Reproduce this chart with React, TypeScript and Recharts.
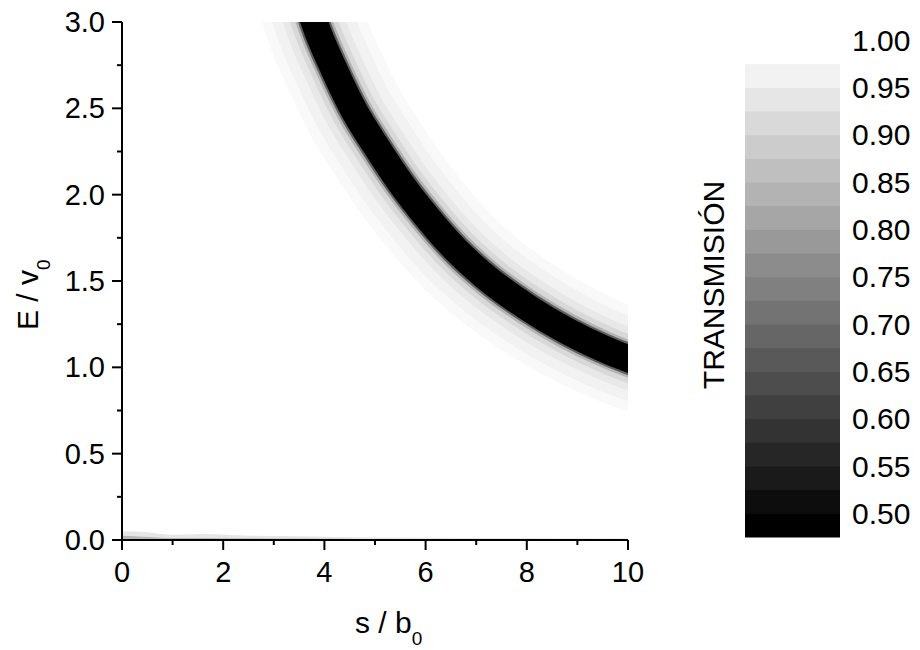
import { ComposedChart, Line, Area, XAxis, YAxis } from 'recharts';

const FONT = '"Liberation Sans", Arial, sans-serif';

// axis ticks
const X_TICKS = [0, 1, 2, 3, 4, 5, 6, 7, 8, 9, 10];
const X_LABELED = [0, 2, 4, 6, 8, 10];
const Y_TICKS = [0, 0.25, 0.5, 0.75, 1, 1.25, 1.5, 1.75, 2, 2.25, 2.5, 2.75, 3];
const Y_LABELED = [0, 0.5, 1, 1.5, 2, 2.5, 3];

// centre of the low-transmission ridge
const RIDGE_S = [3.5, 3.8, 4.2, 4.6, 5.0, 5.5, 6.0, 6.6, 7.2, 8.0, 8.8, 9.5, 10.0, 10.5];
const RIDGE_E = [3.3, 3.0, 2.72, 2.48, 2.29, 2.07, 1.88, 1.68, 1.52, 1.35, 1.21, 1.11, 1.05, 1.0];

// faint strip along E = 0
const FLOOR_S = [0, 0.5, 1, 1.6, 2.5, 3.5, 5, 7, 10];
const FLOOR_E = [0.05, 0.045, 0.03, 0.035, 0.025, 0.022, 0.015, 0.012, 0.008];
const FLOOR_DARK_E = [0.025, 0.018, 0.012, 0.012, 0.01, 0.008, 0.005, 0.003, 0];

// colour scale
const BAR_LEVELS = [0.475, 0.5, 0.525, 0.55, 0.575, 0.6, 0.625, 0.65, 0.675, 0.7, 0.725, 0.75,
  0.775, 0.8, 0.825, 0.85, 0.875, 0.9, 0.925, 0.95, 0.975, 1.0];
const BAR_TICKS = [0.5, 0.55, 0.6, 0.65, 0.7, 0.75, 0.8, 0.85, 0.9, 0.95, 1.0];

// halo layers: wide/light first, core last
const LAYERS = [
  { w: 100, c: '#f9f9f9' },
  { w: 80, c: '#f2f2f2' },
  { w: 60, c: '#e8e8e8' },
  { w: 46, c: '#d8d8d8' },
  { w: 36, c: '#b4b4b4' },
  { w: 31, c: '#606060' },
  { w: 27, c: '#000000' },
];

const ridge = RIDGE_S.map((s, i) => ({ s, E: RIDGE_E[i] }));
const floor = FLOOR_S.map((s, i) => ({ s, E: FLOOR_E[i], Ed: FLOOR_DARK_E[i] }));
const bands = BAR_LEVELS.slice(0, -1).map((lo, i) => [
  { x: 0, r: [lo, BAR_LEVELS[i + 1]] },
  { x: 1, r: [lo, BAR_LEVELS[i + 1]] },
]);
// grey of each band, bottom to top (top band is white)
const bandGray = (i: number) => {
  const g = Math.round((255 * i) / (bands.length - 1));
  return `rgb(${g},${g},${g})`;
};

function XTick({ x, y, payload }: any) {
  const major = X_LABELED.includes(payload.value);
  return (
    <g>
      <line x1={x} x2={x} y1={y} y2={y + (major ? 10 : 5)} stroke="#000" strokeWidth={2} />
      {major && (
        <text x={x} y={y + 42} textAnchor="middle" fontSize={29} fontFamily={FONT} fill="#000">
          {payload.value}
        </text>
      )}
    </g>
  );
}

function YTick({ x, y, payload }: any) {
  const major = Y_LABELED.includes(payload.value);
  return (
    <g>
      <line x1={x} x2={x - (major ? 10 : 5)} y1={y} y2={y} stroke="#000" strokeWidth={2} />
      {major && (
        <text x={x - 17} y={y + 10} textAnchor="end" fontSize={29} fontFamily={FONT} fill="#000">
          {payload.value.toFixed(1)}
        </text>
      )}
    </g>
  );
}

const xTitle = () => (
  <text x={355} y={633} fontSize={30} fontFamily={FONT} fill="#000">
    s / b<tspan fontSize={19} dy={12}>0</tspan>
  </text>
);

const yTitle = () => (
  <text x={38} y={330} transform="rotate(-90, 38, 330)" fontSize={30} fontFamily={FONT} fill="#000">
    E / v<tspan fontSize={19} dy={12}>0</tspan>
  </text>
);

const barTitle = () => (
  <text x={44} y={285} transform="rotate(-90, 44, 285)" textAnchor="middle" fontSize={30} fontFamily={FONT} fill="#000">
    TRANSMISIÓN
  </text>
);

export default function App() {
  return (
    <div style={{ position: 'absolute', left: 0, top: 0, width: 920, height: 650, background: '#fff' }}>
      <div style={{ position: 'absolute', left: 0, top: 0 }}>
        <ComposedChart width={660} height={650} data={ridge} margin={{ top: 22, right: 32, bottom: 0, left: 0 }}>
          <XAxis
            type="number"
            dataKey="s"
            domain={[0, 10]}
            ticks={X_TICKS}
            allowDataOverflow
            height={110}
            tickSize={0}
            tickMargin={0}
            tickLine={false}
            tick={(p: any) => <XTick {...p} />}
            axisLine={{ stroke: '#000', strokeWidth: 2 }}
            label={{ content: xTitle }}
          />
          <XAxis xAxisId="top" orientation="top" type="number" domain={[0, 10]} height={0}
            tick={false} tickLine={false} axisLine={{ stroke: '#000', strokeWidth: 2 }} />
          <YAxis
            type="number"
            domain={[0, 3]}
            ticks={Y_TICKS}
            allowDataOverflow
            width={122}
            tickSize={0}
            tickMargin={0}
            tickLine={false}
            tick={(p: any) => <YTick {...p} />}
            axisLine={{ stroke: '#000', strokeWidth: 2 }}
            label={{ content: yTitle }}
          />
          <YAxis yAxisId="right" orientation="right" type="number" domain={[0, 3]} width={0}
            tick={false} tickLine={false} axisLine={{ stroke: '#000', strokeWidth: 2 }} />
          <Area data={floor} dataKey="E" type="monotone" fill="#e6e6e6" stroke="none" fillOpacity={1} isAnimationActive={false} />
          <Area data={floor} dataKey="Ed" type="monotone" fill="#b8b8b8" stroke="none" fillOpacity={1} isAnimationActive={false} />
          {LAYERS.map((l, i) => (
            <Line
              key={i}
              dataKey="E"
              type="monotone"
              stroke={l.c}
              strokeWidth={l.w}
              strokeLinejoin="round"
              dot={false}
              activeDot={false}
              isAnimationActive={false}
            />
          ))}
        </ComposedChart>
      </div>
      <div style={{ position: 'absolute', left: 680, top: 0 }}>
        <ComposedChart width={240} height={650} margin={{ top: 40, right: 0, bottom: 113, left: 0 }}>
          <XAxis type="number" dataKey="x" domain={[0, 1]} hide />
          <YAxis yAxisId="title" orientation="left" width={65} tick={false} tickLine={false} axisLine={false}
            label={{ content: barTitle }} />
          <YAxis
            orientation="right"
            type="number"
            domain={[0.475, 1.0]}
            ticks={BAR_TICKS}
            width={80}
            axisLine={false}
            tickLine={false}
            tickSize={0}
            tickMargin={12}
            tick={{ fontSize: 30, fontFamily: FONT, fill: '#000' }}
            tickFormatter={(v: number) => v.toFixed(2)}
          />
          {bands.map((b, i) => (
            <Area key={i} data={b} dataKey="r" type="linear" fill={bandGray(i)} fillOpacity={1}
              stroke={bandGray(i)} strokeWidth={1} isAnimationActive={false} />
          ))}
        </ComposedChart>
      </div>
    </div>
  );
}
